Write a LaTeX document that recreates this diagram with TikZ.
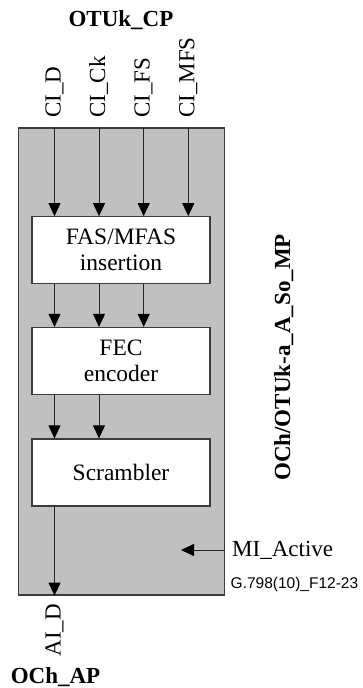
\documentclass[tikz,border=0pt]{standalone}
\usepackage{fontspec}
\setmainfont{Liberation Serif}
\newfontfamily\figsans{Liberation Sans}
\usetikzlibrary{arrows.meta}
\definecolor{fungray}{RGB}{192,192,192}
\definecolor{edgegray}{RGB}{60,60,60}
\begin{document}
\begin{tikzpicture}[x=1pt, y=1pt,
    sig/.style={-{Triangle[length=13pt, width=12pt, color=black]}, line width=0.9pt, draw=black!85},
    blk/.style={draw=edgegray, line width=1.2pt, fill=white, minimum width=178pt,
        minimum height=67pt, align=center, inner sep=0pt, font=\fontsize{23.5}{26}\selectfont},
    lbl/.style={font=\fontsize{23}{26}\selectfont, inner sep=0pt},
    blbl/.style={font=\fontsize{23}{26}\selectfont\bfseries, inner sep=0pt}]
    \useasboundingbox (0,0) rectangle (362,-688);

    % --- Fonction d'adaptation (fond gris) ---
    \node[draw=edgegray, line width=1.3pt, fill=fungray, minimum width=206pt,
        minimum height=467pt, inner sep=0pt] (fun) at (121.5,-361.5) {};

    % --- Blocs internes ---
    \node[blk] (fas) at (121,-250.2) {FAS/MFAS\\insertion};
    \node[blk] (fec) at (121,-361) {FEC\\encoder};
    \node[blk] (scr) at (121,-472.5) {Scrambler};

    % --- Points de connexion et signaux CI ---
    \node[blbl, anchor=base] (cp) at (121,-26.7) {OTUk\_CP};
    \foreach \n/\x/\t in {d/54.5/CI\_D, ck/99/CI\_Ck, fs/143.7/CI\_FS, mfs/188.3/CI\_MFS}{
        \node[lbl, rotate=90, anchor=base west] (ci\n) at (\x+6,-118) {\t};
        \coordinate (in\n) at (\x,-118);
        \draw[sig] (in\n |- fun.north) -- (in\n |- fas.north);
    }

    % --- FAS/MFAS -> FEC -> Scrambler ---
    \foreach \n in {d, ck, fs}
        \draw[sig] (in\n |- fas.south) -- (in\n |- fec.north);
    \foreach \n in {d, ck}
        \draw[sig] (in\n |- fec.south) -- (in\n |- scr.north);

    % --- Sortie AI_D ---
    \node[lbl, rotate=90, anchor=base east] (aid) at (60.5,-604) {AI\_D};
    \node[blbl, anchor=base] (ap) at (55.5,-683) {OCh\_AP};
    \draw[sig] (ind |- scr.south) -- (ind |- fun.south);

    % --- Point de gestion MI_Active ---
    \node[lbl, anchor=base west] (mi) at (232,-556) {MI\_Active};
    \coordinate (miend) at (181,-550);
    \draw[sig] (fun.east |- miend) -- (miend);

    % --- Nom de la fonction et reference ---
    \node[blbl, rotate=90, anchor=base] (mp) at (290,-357.5) {OCh/OTUk-a\_A\_So\_MP};
    \node[anchor=west, inner sep=0pt, font=\figsans\fontsize{15.5}{18}\selectfont] (ref)
        at (230.5,-584) {G.798(10)\_F12-23};
\end{tikzpicture}
\end{document}
